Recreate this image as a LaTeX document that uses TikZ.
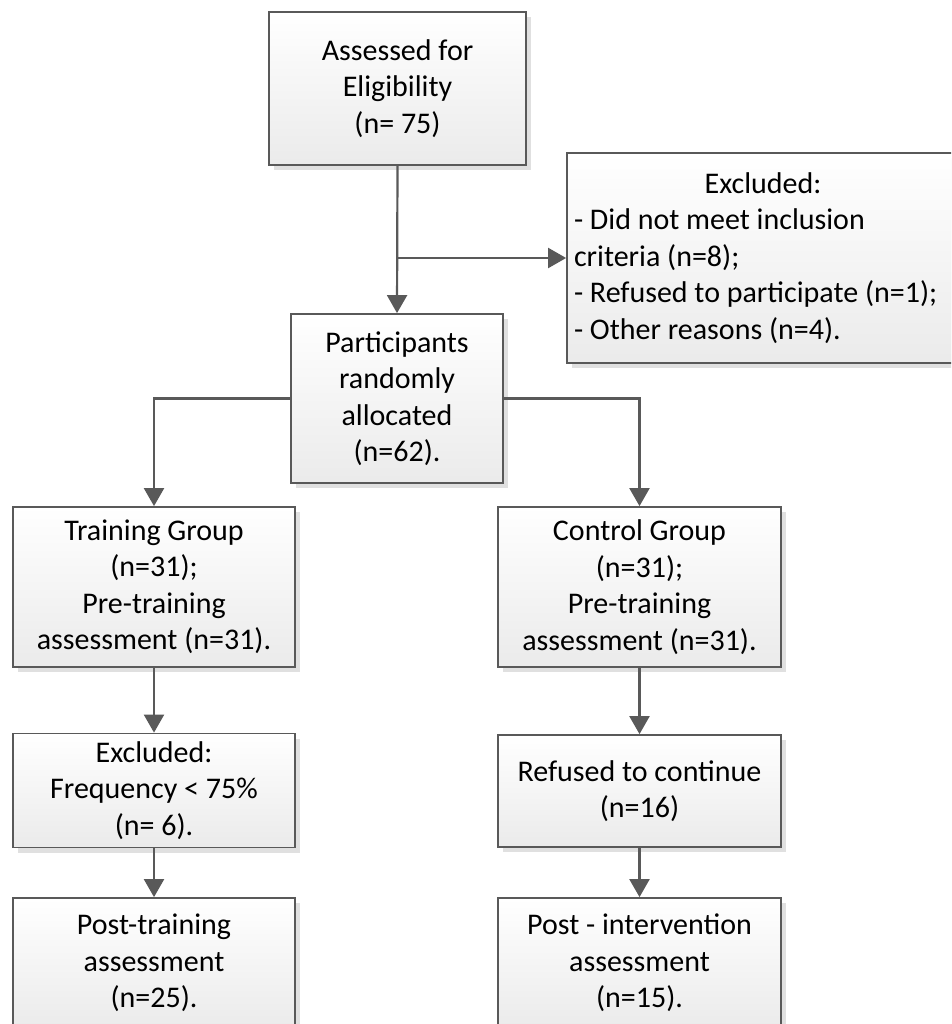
\documentclass[tikz,border=0pt]{standalone}
\usepackage{fontspec}
\setmainfont{Carlito}
\usetikzlibrary{arrows.meta,shadows}
\definecolor{fGray}{gray}{0.35}
\definecolor{fShade}{gray}{0.92}
\tikzset{
    box/.style={rectangle, draw=fGray, line width=1.8pt, top color=white, bottom color=fShade,
        align=center, inner sep=8pt, font=\fontsize{30}{36.5}\selectfont,
        drop shadow={shadow xshift=5pt, shadow yshift=-5pt, fill=black, opacity=0.12}},
    conn/.style={draw=fGray, line width=2.2pt, -{Triangle[width=20pt,length=18pt]}}
}

\begin{document}
\begin{tikzpicture}[x=1pt,y=-1pt]
\clip (0,0) rectangle (951,1024);
\fill[white] (0,0) rectangle (951,1024);
\node[box,minimum width=257pt,minimum height=153pt] (assess) at (397.5,88.5) {Assessed for\\Eligibility\\(n= 75)};
\node[box,minimum width=392pt,minimum height=210pt,text width=378pt,align=flush left,inner sep=7pt] (excl) at (763,258)
    {\makebox[378pt]{Excluded:}\\- Did not meet inclusion\\criteria (n=8);\\- Refused to participate (n=1);\\- Other reasons (n=4).};
\node[box,minimum width=212pt,minimum height=169pt] (alloc) at (397,398.5) {Participants\\randomly\\allocated\\(n=62).};
\node[box,minimum width=282pt,minimum height=160pt] (train) at (154,587) {Training Group\\(n=31);\\Pre-training\\assessment (n=31).};
\node[box,minimum width=283pt,minimum height=160pt] (ctrl) at (639.5,587) {Control Group\\(n=31);\\Pre-training\\assessment (n=31).};
\node[box,minimum width=282pt,minimum height=111pt] (trexcl) at (154,790.5) {Excluded:\\Frequency < 75\%\\(n= 6).};
\node[box,minimum width=283pt,minimum height=112pt] (refused) at (639.5,791) {Refused to continue\\(n=16)};
\node[box,minimum width=282pt,minimum height=130pt] (posttr) at (154,963) {Post-training\\assessment\\(n=25).};
\node[box,minimum width=283pt,minimum height=130pt] (postint) at (639.5,963) {Post - intervention\\assessment\\(n=15).};
\coordinate (split) at (assess.south |- excl.west);
\draw[conn] (assess.south) -- (alloc.north);
\draw[conn] (split) -- (excl.west);
\draw[conn] (alloc.west) -| (train.north);
\draw[conn] (alloc.east) -| (ctrl.north);
\draw[conn] (train.south) -- (trexcl.north);
\draw[conn] (trexcl.south) -- (posttr.north);
\draw[conn] (ctrl.south) -- (refused.north);
\draw[conn] (refused.south) -- (postint.north);
\end{tikzpicture}
\end{document}
